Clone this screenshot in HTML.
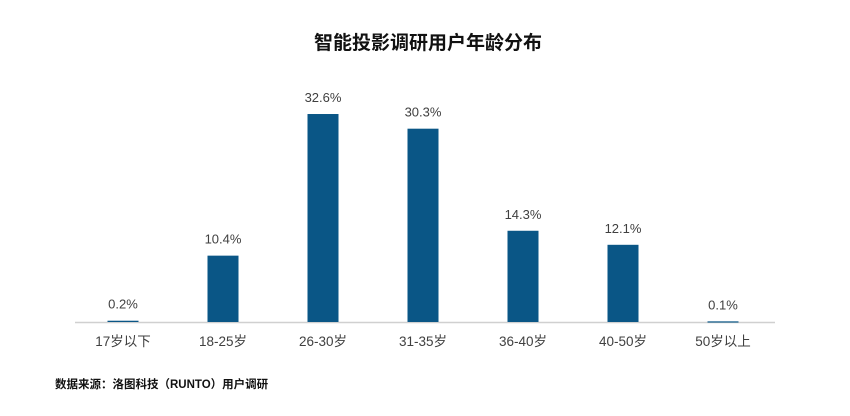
<!DOCTYPE html>
<html><head><meta charset="utf-8">
<style>
body{margin:0;background:#fff;}
svg{display:block;font-family:"Liberation Sans","Noto Sans CJK SC",sans-serif;}
</style></head>
<body>
<svg id="chart" width="850" height="416" viewBox="0 0 850 416">
<text x="428" y="49" text-anchor="middle" font-size="19" font-weight="bold" fill="#111">智能投影调研用户年龄分布</text>
<line x1="75" y1="322.5" x2="775" y2="322.5" stroke="#d0d0d0" stroke-width="1.5"/>
<g id="bars"></g>
<text x="55" y="388" font-size="11.5" font-weight="bold" fill="#111">数据来源：洛图科技（RUNTO）用户调研</text>
</svg>
<script>
const categories=["17岁以下","18-25岁","26-30岁","31-35岁","36-40岁","40-50岁","50岁以上"];
const values=[0.2,10.4,32.6,30.3,14.3,12.1,0.1];
const valueLabels=["0.2%","10.4%","32.6%","30.3%","14.3%","12.1%","0.1%"];
const ns="http://www.w3.org/2000/svg";
const g=document.getElementById("bars");
const x0=73,band=100,baseY=322,pxPer=6.38,bw=31;
function xScale(i){return x0+band*i+band/2;}
function yScale(v){return baseY-v*pxPer;}
categories.forEach((c,i)=>{
  const cx=xScale(i),top=yScale(values[i]);
  const r=document.createElementNS(ns,"rect");
  r.setAttribute("x",cx-bw/2);r.setAttribute("y",top);
  r.setAttribute("width",bw);r.setAttribute("height",Math.max(baseY-top,1.2));
  r.setAttribute("fill","#0a5686");
  
  
  g.appendChild(r);
  const t=document.createElementNS(ns,"text");
  t.setAttribute("x",cx);t.setAttribute("y",top-12);
  t.setAttribute("text-anchor","middle");t.setAttribute("font-size","13");t.setAttribute("fill","#404040");
  t.textContent=valueLabels[i];
  
  
  g.appendChild(t);
  const l=document.createElementNS(ns,"text");
  l.setAttribute("x",cx);l.setAttribute("y",346);
  l.setAttribute("text-anchor","middle");l.setAttribute("font-size","13.5");l.setAttribute("fill","#404040");
  l.textContent=c;
  
  
  g.appendChild(l);
});
</script>
</body></html>
